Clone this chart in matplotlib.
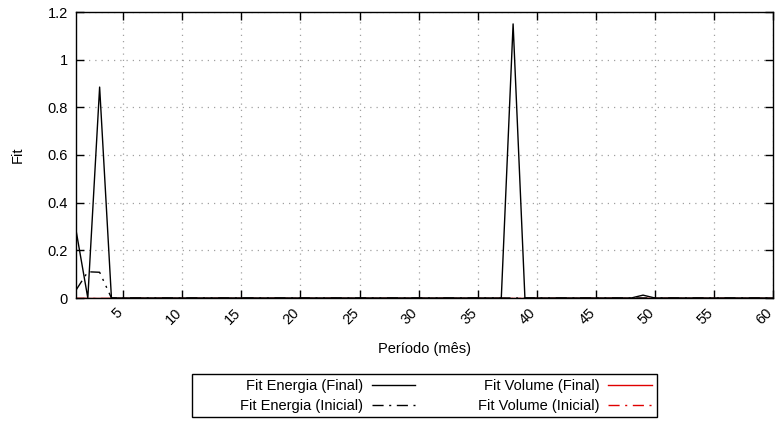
import matplotlib
matplotlib.use("Agg")
import matplotlib.pyplot as plt
from matplotlib.patches import Rectangle
from matplotlib.transforms import ScaledTranslation

plt.rcParams['font.family'] = ['Liberation Sans', 'DejaVu Sans']

periodo = list(range(1, 61))

energia_final = [0.0] * 60
energia_final[0] = 0.285
energia_final[2] = 0.885
energia_final[37] = 1.15
energia_final[48] = 0.012

energia_inicial = [0.0] * 60
energia_inicial[0] = 0.033
energia_inicial[1] = 0.11
energia_inicial[2] = 0.108

volume_final = [0.0] * 60
volume_inicial = [0.0] * 60

xticks = list(range(5, 61, 5))
yticks = [0, 0.2, 0.4, 0.6, 0.8, 1.0, 1.2]
ytick_labels = ["0", "0.2", "0.4", "0.6", "0.8", "1", "1.2"]

W, H = 775, 422
fig = plt.figure(figsize=(W / 100, H / 100), dpi=100)
ax = fig.add_axes([76 / W, 1 - 298 / H, (773 - 76) / W, (298 - 12) / H])

fs = 10.5
dashdot = (0, (8, 4, 1.5, 4, 8, 4, 1.5, 4, 1.5, 4))

l3, = ax.plot(periodo, volume_final, color='#e00000', lw=1.0, label='Fit Volume (Final)')
l4, = ax.plot(periodo, volume_inicial, color='#e00000', lw=1.0, linestyle=dashdot, label='Fit Volume (Inicial)')
l2, = ax.plot(periodo, energia_inicial, color='black', lw=1.0, linestyle=dashdot, label='Fit Energia (Inicial)')
l1, = ax.plot(periodo, energia_final, color='black', lw=1.0, label='Fit Energia (Final)')

ax.set_xlim(1, 60)
ax.set_ylim(0, 1.2)
ax.set_xticks(xticks)
ax.set_xticklabels([str(t) for t in xticks], rotation=45, ha='right', va='center',
                   rotation_mode='anchor', fontsize=fs)
ax.set_yticks(yticks)
ax.set_yticklabels(ytick_labels, fontsize=fs)
ax.tick_params(direction='in', length=6, width=1, top=True, right=True, pad=6)
ax.tick_params(axis='x', pad=9)
shift = ScaledTranslation(-3 / 100, 0, fig.dpi_scale_trans)
for lab in ax.get_xticklabels():
    lab.set_transform(lab.get_transform() + shift)
ax.grid(True, color='#a0a0a0', linestyle=(0, (1, 4)), lw=0.9)
for s in ax.spines.values():
    s.set_linewidth(1.0)

ax.set_xlabel('Período (mês)', fontsize=fs, labelpad=11)
ax.set_ylabel('Fit', fontsize=fs, labelpad=16)

leg = fig.legend(handles=[l1, l2, l3, l4], ncol=2, markerfirst=False, frameon=False,
                 fontsize=fs, handlelength=3.0, handletextpad=0.6, columnspacing=4.3,
                 labelspacing=0.45, loc='center', bbox_to_anchor=(446 / W, 1 - 396 / H),
                 borderpad=0.0)

fig.patches.append(Rectangle((192 / W, 1 - 417 / H), (657 - 192) / W, (417 - 374) / H,
                             transform=fig.transFigure, fill=False, edgecolor='black', lw=1.0))

fig.savefig('out.png', dpi=100)
